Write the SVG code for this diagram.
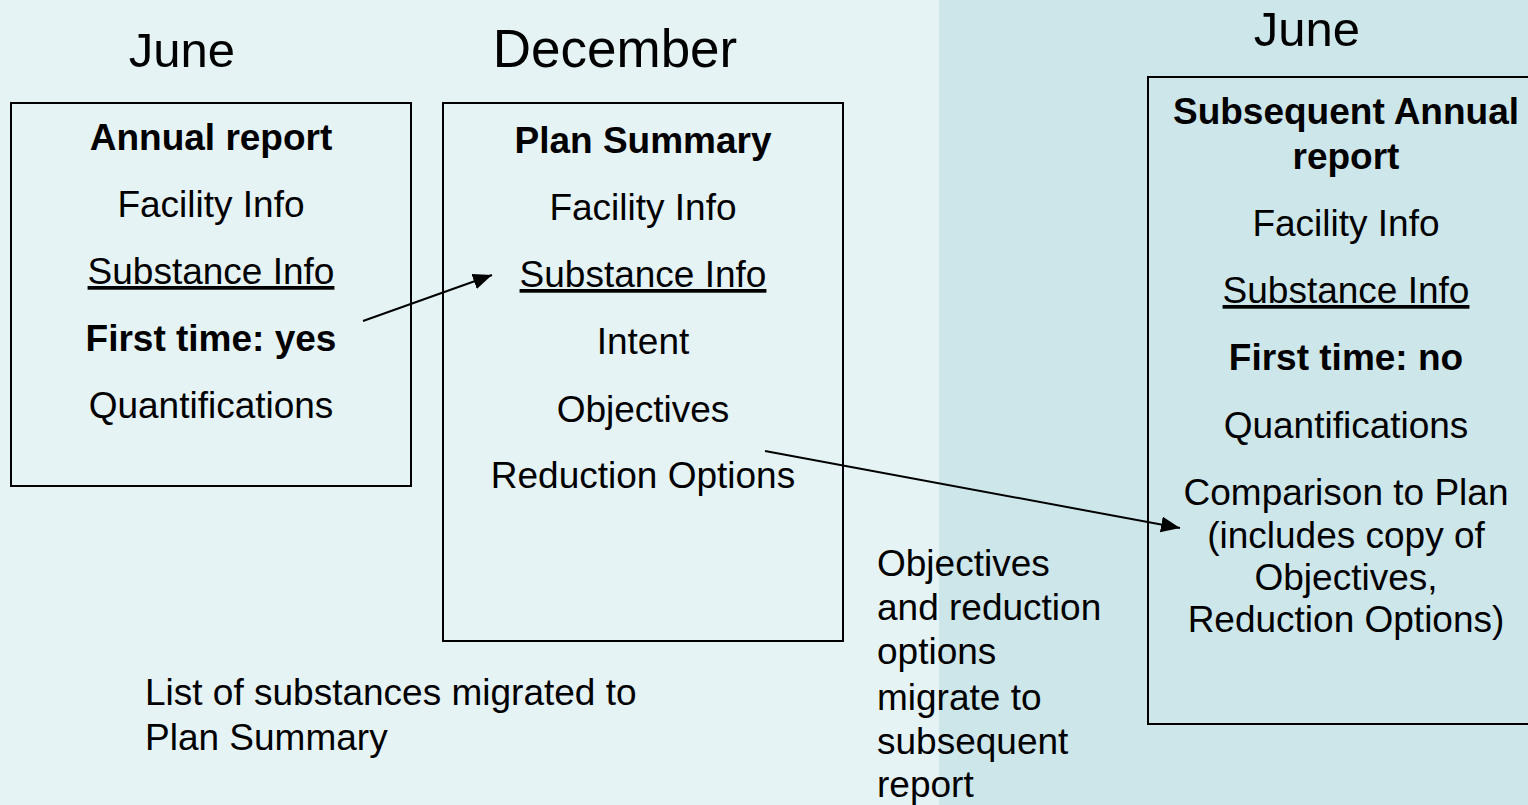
<svg xmlns="http://www.w3.org/2000/svg" width="1528" height="805" viewBox="0 0 1528 805">
<defs>
<style>
text{font-family:"Liberation Sans",Arial,sans-serif;fill:#000;}
.h{font-size:49px;text-anchor:middle;}
.t{font-size:37px;text-anchor:middle;}
.b{font-weight:bold;}
.u{text-decoration:underline;}
.n{font-size:37px;}
.box{fill:none;stroke:#000;stroke-width:2;}
.conn{stroke:#000;stroke-width:2;fill:none;marker-end:url(#arr);}
</style>
<marker id="arr" markerUnits="userSpaceOnUse" markerWidth="20" markerHeight="16" refX="19" refY="8" orient="auto">
<path d="M0,0 L19,8 L0,16 z" fill="#000"/>
</marker>
</defs>
<rect x="0" y="0" width="939" height="805" fill="#E5F3F5"/>
<rect x="939" y="0" width="589" height="805" fill="#CDE6EA"/>

<text class="h" x="182" y="67">June</text>
<text class="h" x="615" y="67" style="font-size:53px">December</text>
<text class="h" x="1307" y="46">June</text>

<g id="annual-report">
<rect class="box" x="11" y="103" width="400" height="383"/>
<text class="t b" x="211" y="150">Annual report</text>
<text class="t" x="211" y="217">Facility Info</text>
<text class="t u" x="211" y="284">Substance Info</text>
<text class="t b" x="211" y="351">First time: yes</text>
<text class="t" x="211" y="418">Quantifications</text>
</g>

<g id="plan-summary">
<rect class="box" x="443" y="103" width="400" height="538"/>
<text class="t b" x="643" y="153">Plan Summary</text>
<text class="t" x="643" y="220">Facility Info</text>
<text class="t u" x="643" y="287">Substance Info</text>
<text class="t" x="643" y="354">Intent</text>
<text class="t" x="643" y="422">Objectives</text>
<text class="t" x="643" y="488">Reduction Options</text>
</g>

<g id="subsequent-report">
<rect class="box" x="1148" y="77" width="420" height="647"/>
<text class="t b" x="1346" y="124">Subsequent Annual</text>
<text class="t b" x="1346" y="169">report</text>
<text class="t" x="1346" y="236">Facility Info</text>
<text class="t u" x="1346" y="303">Substance Info</text>
<text class="t b" x="1346" y="370">First time: no</text>
<text class="t" x="1346" y="438">Quantifications</text>
<text class="t" x="1346" y="505">Comparison to Plan</text>
<text class="t" x="1346" y="548">(includes copy of</text>
<text class="t" x="1346" y="590">Objectives,</text>
<text class="t" x="1346" y="632">Reduction Options)</text>
</g>

<g id="note-substances">
<text class="n" x="145" y="705">List of substances migrated to</text>
<text class="n" x="145" y="750">Plan Summary</text>
</g>

<g id="note-objectives">
<text class="n" x="877" y="576">Objectives</text>
<text class="n" x="877" y="620">and reduction</text>
<text class="n" x="877" y="664">options</text>
<text class="n" x="877" y="710">migrate to</text>
<text class="n" x="877" y="754">subsequent</text>
<text class="n" x="877" y="797">report</text>
</g>

<g id="connectors">
<line class="conn" x1="363" y1="321" x2="492" y2="275"/>
<line class="conn" x1="765" y1="451" x2="1180" y2="528"/>
</g>
</svg>
